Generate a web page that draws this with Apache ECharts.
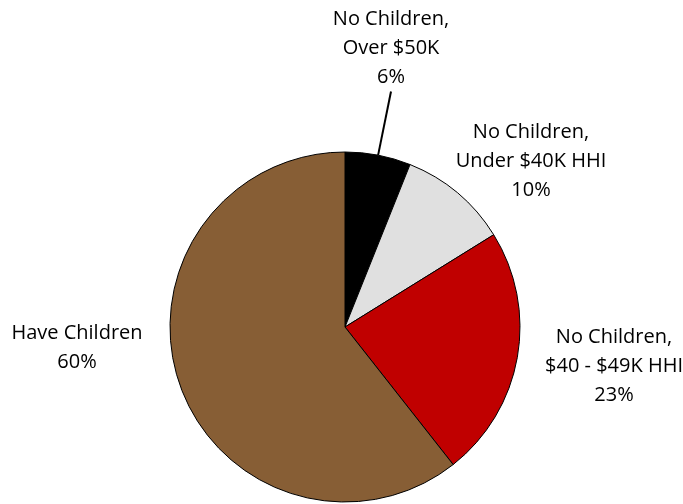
<!DOCTYPE html>
<html>
<head>
<meta charset="utf-8">
<script src="https://cdn.jsdelivr.net/npm/echarts@6/dist/echarts.min.js"></script>
<style>
  html, body { margin: 0; padding: 0; background: #fff; }
  #main { width: 683px; height: 504px; }
</style>
</head>
<body>
<div id="main"></div>
<script>
// 資料
var segNames = ['No Children,\nOver $50K', 'No Children,\nUnder $40K HHI', 'No Children,\n$40 - $49K HHI', 'Have Children'];
var segValues = [6, 10, 23, 60];
var segColors = ['#000000', '#e0e0e0', '#c00000', '#875e35'];

// label 中心位置
var labelPos = [[391, 48], [531, 161], [614, 366], [77, 348]];

var myChart = echarts.init(document.getElementById('main'));

var pieData = [];
for (let i = 0; i < segNames.length; i++) {
    pieData.push({
        name: segNames[i],
        value: segValues[i],
        itemStyle: { color: segColors[i] },
        labelLine: { show: i === 0 }
    });
}

var option = {
    animation: false,
    series: [{
        type: 'pie',
        center: [345, 327],
        radius: 175,
        startAngle: 90,
        clockwise: true,
        itemStyle: {
            borderColor: '#000',
            borderWidth: 1
        },
        label: {
            show: true,
            position: 'outside',
            formatter: function(p) {
                return p.name + '\n' + p.value + '%';
            },
            fontFamily: 'Open Sans',
            fontSize: 20,
            lineHeight: 29,
            color: '#000',
            align: 'center'
        },
        labelLine: {
            lineStyle: { color: '#000', width: 2 },
            length: 10,
            length2: 0
        },
        labelLayout: function(params) {
            var p = labelPos[params.dataIndex];
            return {
                x: p[0],
                y: p[1],
                align: 'center',
                verticalAlign: 'middle'
            };
        },
        data: pieData
    }]
};

myChart.setOption(option);
</script>
</body>
</html>
